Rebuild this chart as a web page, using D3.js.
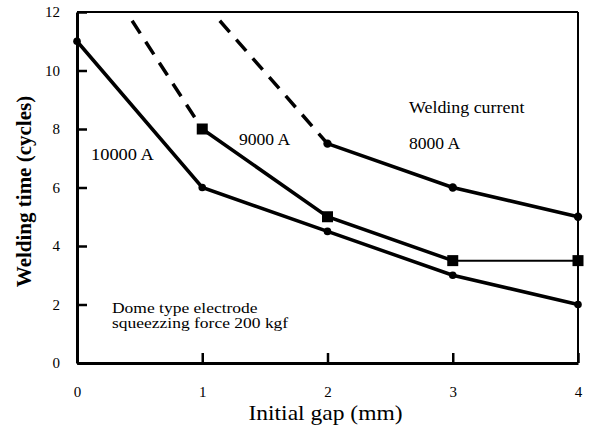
<!DOCTYPE html>
<html>
<head>
<meta charset="utf-8">
<script src="https://cdn.jsdelivr.net/npm/d3@7"></script>
<style>
  body { margin: 0; background: #fff; }
  svg text { font-family: "Liberation Serif", "Tinos", "Times New Roman", "DejaVu Serif", serif; fill: #000; }
</style>
</head>
<body>
<script>
const gapTicks = [0, 1, 2, 3, 4];
const timeTicks = [0, 2, 4, 6, 8, 10, 12];

// 10000 A
const gap10000 = [0, 1, 2, 3, 4];
const time10000 = [11, 6, 4.5, 3, 2];
// 9000 A (dashed part then measured part)
const dash9000 = [[0.44, 11.7], [1, 8]];
const gap9000 = [1, 2, 3, 4];
const time9000 = [8, 5, 3.5, 3.5];
// 8000 A
const dash8000 = [[1.14, 11.7], [2, 7.5]];
const gap8000 = [2, 3, 4];
const time8000 = [7.5, 6, 5];

const W = 589, H = 434;
const mLeft = 77, mRight = 578, mTop = 12, mBottom = 363;
const serif = '"Liberation Serif", "Tinos", "Times New Roman", "DejaVu Serif", serif';

const svg = d3.select("body").append("svg")
  .attr("width", W).attr("height", H);

const x = d3.scaleLinear().domain([0, 4]).range([mLeft, mRight]);
const y = d3.scaleLinear().domain([0, 12]).range([mBottom, mTop]);

// frame
svg.append("line").attr("x1", mLeft).attr("x2", mRight).attr("y1", mTop).attr("y2", mTop)
  .attr("stroke", "#000").attr("stroke-width", 2);
svg.append("line").attr("x1", mRight).attr("x2", mRight).attr("y1", mTop).attr("y2", mBottom)
  .attr("stroke", "#000").attr("stroke-width", 2);

const yAxis = svg.append("g")
  .attr("transform", `translate(${mLeft},0)`)
  .call(d3.axisLeft(y).tickValues(timeTicks).tickFormat(d3.format("d"))
    .tickSizeInner(-10).tickSizeOuter(0).tickPadding(17));
yAxis.attr("font-family", serif).attr("font-size", 15);
yAxis.select(".domain").attr("stroke-width", 3);
yAxis.selectAll(".tick line").attr("stroke-width", 2.5);

const xAxis = svg.append("g")
  .attr("transform", `translate(0,${mBottom})`)
  .call(d3.axisBottom(x).tickValues(gapTicks).tickFormat(d3.format("d"))
    .tickSizeInner(-10).tickSizeOuter(0).tickPadding(23));
xAxis.attr("font-family", serif).attr("font-size", 15);
xAxis.select(".domain").attr("stroke-width", 3);
xAxis.selectAll(".tick line").attr("stroke-width", 2.5);

// axis titles
svg.append("text")
  .attr("transform", `translate(31,${(mTop + mBottom) / 2 + 4}) rotate(-90)`)
  .attr("text-anchor", "middle")
  .style("font-size", "21px").style("font-weight", "bold")
  .text("Welding time (cycles)");
svg.append("text")
  .attr("transform", `translate(${(mLeft + mRight) / 2 - 2},420) scale(1.12,1)`)
  .attr("text-anchor", "middle")
  .style("font-size", "21px")
  .text("Initial gap (mm)");

const line = d3.line().x(d => x(d[0])).y(d => y(d[1]));
const zip = (a, b) => a.map((v, i) => [v, b[i]]);

const pts10000 = zip(gap10000, time10000);
const pts9000 = zip(gap9000, time9000);
const pts8000 = zip(gap8000, time8000);

// dashed extrapolations
[dash9000, dash8000].forEach(p => {
  svg.append("path").attr("d", line(p))
    .attr("fill", "none").attr("stroke", "#000")
    .attr("stroke-width", 3.5).attr("stroke-dasharray", "15,10");
});

svg.append("path").attr("d", line(pts10000))
  .attr("fill", "none").attr("stroke", "#000").attr("stroke-width", 3.5);
svg.append("path").attr("d", line(pts9000.slice(0, 3)))
  .attr("fill", "none").attr("stroke", "#000").attr("stroke-width", 3.5);
svg.append("path").attr("d", line(pts9000.slice(2)))
  .attr("fill", "none").attr("stroke", "#000").attr("stroke-width", 2);
svg.append("path").attr("d", line(pts8000))
  .attr("fill", "none").attr("stroke", "#000").attr("stroke-width", 3.5);

// markers
svg.selectAll(".m10").data(pts10000).enter().append("circle")
  .attr("cx", d => x(d[0])).attr("cy", d => y(d[1])).attr("r", 3.8).attr("fill", "#000");
svg.selectAll(".m8").data(pts8000).enter().append("circle")
  .attr("cx", d => x(d[0])).attr("cy", d => y(d[1])).attr("r", 4.2).attr("fill", "#000");
svg.selectAll(".m9").data(pts9000).enter().append("rect")
  .attr("x", d => x(d[0]) - 5.5).attr("y", d => y(d[1]) - 5.5)
  .attr("width", 11).attr("height", 11).attr("fill", "#000");

// labels
function label(tx, ty, str, size, sx) {
  svg.append("text")
    .attr("transform", `translate(${tx},${ty}) scale(${sx},1)`)
    .style("font-size", size + "px")
    .text(str);
}
label(91, 160, "10000 A", 16, 1.15);
label(239, 145, "9000 A", 16, 1.1);
label(409, 113, "Welding current", 16, 1.12);
label(409, 149, "8000 A", 16, 1.1);
label(112, 313, "Dome type electrode", 14, 1.25);
label(112, 328, "squeezzing force 200 kgf", 14, 1.25);
</script>
</body>
</html>
